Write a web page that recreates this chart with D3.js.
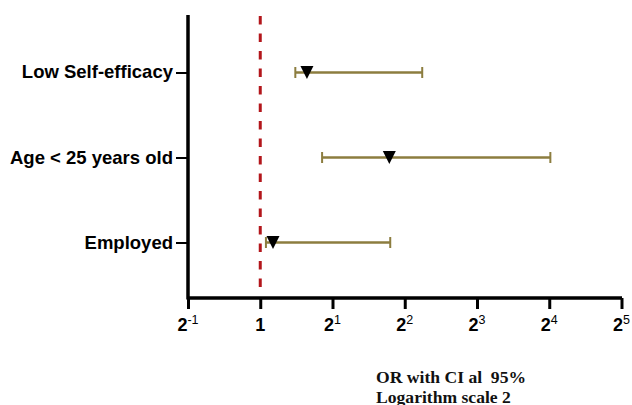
<!DOCTYPE html>
<html><head><meta charset="utf-8">
<script src="https://cdn.jsdelivr.net/npm/d3@7"></script>
<style>body{margin:0;background:#fff}svg{display:block}</style>
</head><body>
<svg id="c" width="632" height="405"></svg>
<script>
const categories = ["Low Self-efficacy", "Age < 25 years old", "Employed"];
const oddsRatio = [1.565, 3.45, 1.13];
const ciLow = [1.40, 1.81, 1.056];
const ciHigh = [4.73, 16.17, 3.48];
const tickExponents = [-1, 0, 1, 2, 3, 4, 5];
const xTitle = ["OR with CI al  95%", "Logarithm scale 2"];

const svg = d3.select("#c");
const x = d3.scaleLog().base(2).domain([0.5, 32]).range([188, 621.5]);
const y = d3.scalePoint().domain(categories).range([15, 300]).padding(0.676);

// red dashed reference line at OR = 1
svg.append("line")
  .attr("x1", x(1)).attr("x2", x(1)).attr("y1", 16).attr("y2", 296)
  .attr("stroke", "#b3161b").attr("stroke-width", 3).attr("stroke-dasharray", "8.5,9");

// error bars
const rows = categories.map((c, i) => ({c, or: oddsRatio[i], lo: ciLow[i], hi: ciHigh[i]}));
const col = "#8c7d3f";
const g = svg.append("g");
rows.forEach(r => {
  const yy = y(r.c);
  g.append("line").attr("x1", x(r.lo)).attr("x2", x(r.hi)).attr("y1", yy).attr("y2", yy)
    .attr("stroke", col).attr("stroke-width", 2.5);
  [r.lo, r.hi].forEach(v => g.append("line").attr("x1", x(v)).attr("x2", x(v))
    .attr("y1", yy - 5.5).attr("y2", yy + 5.5).attr("stroke", col).attr("stroke-width", 2));
  const cx = x(r.or);
  g.append("path").attr("d", `M${cx-6.5},${yy-6.5} L${cx+6.5},${yy-6.5} L${cx},${yy+6.5} Z`).attr("fill", "#000");
});

// axes
const xAxis = svg.append("g").attr("transform", "translate(0,298)")
  .call(d3.axisBottom(x).tickValues(tickExponents.map(e => Math.pow(2, e))).tickSize(11).tickSizeOuter(0).tickFormat(""));
xAxis.select(".domain").attr("stroke", "#000").attr("stroke-width", 3.5).attr("d", "M188,0H622");
xAxis.selectAll(".tick line").attr("stroke", "#000").attr("stroke-width", 3);

const lbl = svg.append("g").attr("font-family", "Liberation Sans, Arial, sans-serif").attr("font-weight", "bold").attr("fill", "#000");
tickExponents.forEach(e => {
  const t = lbl.append("text").attr("x", x(Math.pow(2, e))).attr("y", 331).attr("text-anchor", "middle").attr("font-size", 18);
  if (e === 0) { t.text("1"); }
  else {
    t.append("tspan").text("2");
    t.append("tspan").attr("dy", -7).attr("font-size", 12.5).attr("font-weight", "normal").text(String(e));
  }
});

const yAxis = svg.append("g").attr("transform", "translate(188,0)")
  .call(d3.axisLeft(y).tickSize(12).tickSizeOuter(0).tickFormat(""));
yAxis.select(".domain").attr("stroke", "#000").attr("stroke-width", 3.5).attr("d", "M0,15V299.5");
yAxis.selectAll(".tick line").attr("stroke", "#000").attr("stroke-width", 2);

categories.forEach(c => {
  lbl.append("text").attr("x", 173).attr("y", y(c) + 6).attr("text-anchor", "end").attr("font-size", 18.5).text(c);
});

const tt = svg.append("g").attr("font-family", "Liberation Serif, Times New Roman, serif").attr("font-weight", "bold").attr("font-size", 17.6).attr("fill", "#111");
xTitle.forEach((t, i) => tt.append("text").attr("x", 376).attr("y", 383 + i * 19.5).text(t.replace(/  /g, " \u00a0")));
</script>
</body></html>
